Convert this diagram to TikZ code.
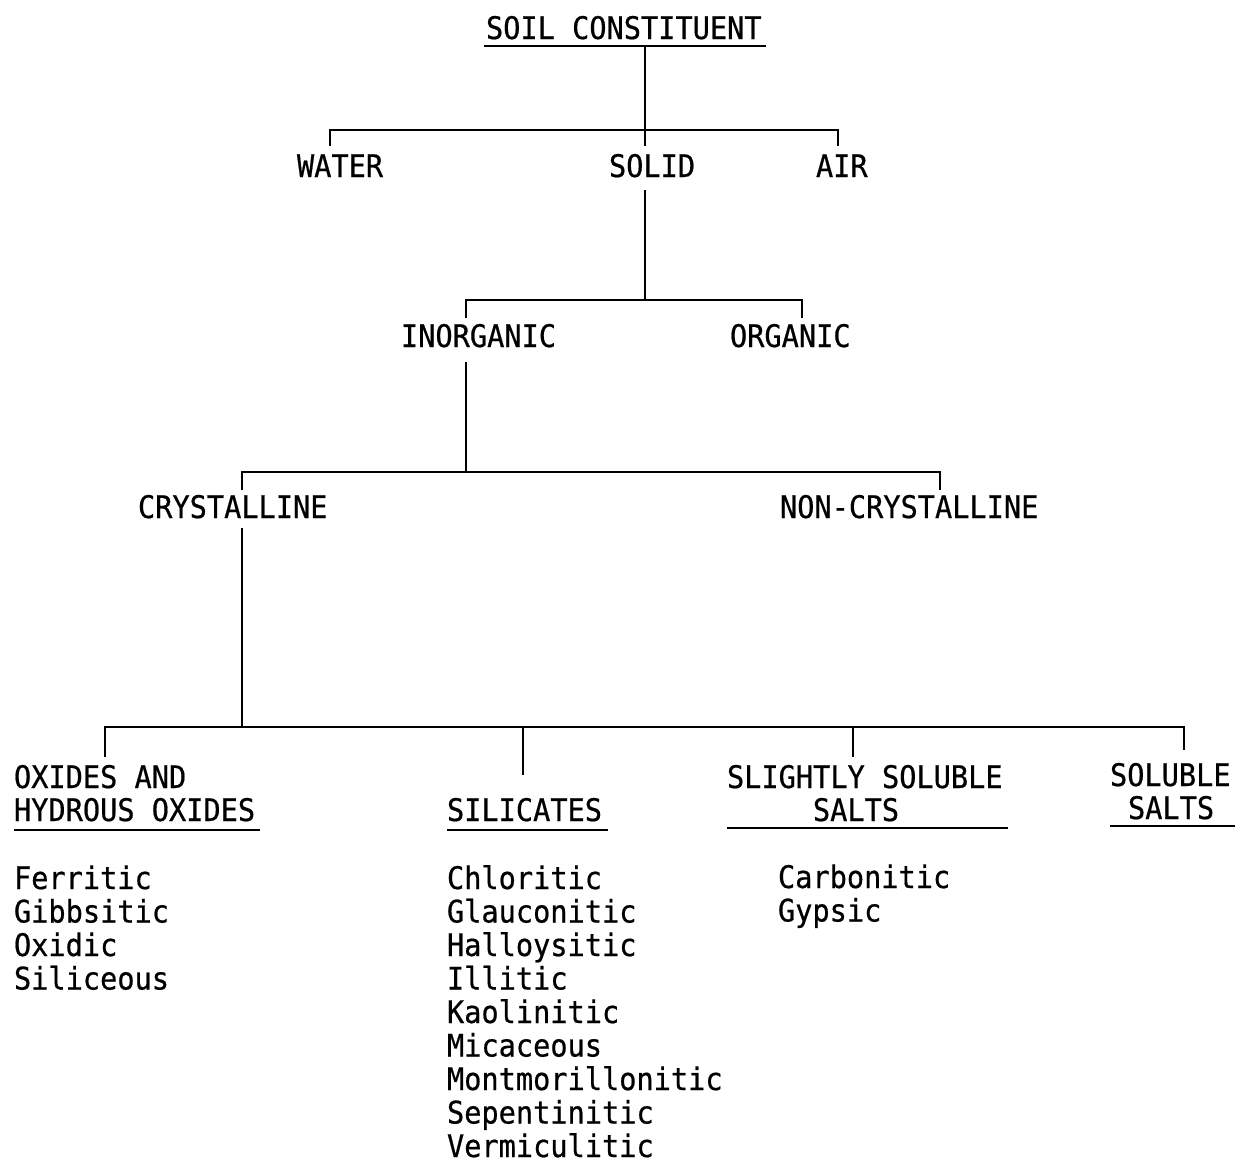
\documentclass[tikz,border=0pt]{standalone}
\usepackage{fontspec}
\setmonofont[FakeStretch=0.92,FakeBold=0.6]{DejaVu Sans Mono}
\begin{document}
\begin{tikzpicture}[x=1pt,y=-1pt,
  lbl/.style={font=\ttfamily\fontsize{31.1}{33.5}\selectfont,inner sep=0pt,outer sep=0pt,anchor=base west},
  lblc/.style={lbl,anchor=base},
  link/.style={line width=2.7pt},
  uline/.style={line width=2.7pt}]
\useasboundingbox (0,0) rectangle (1235,1162);

% ---- root ----
\node[lbl] (soil) at (486,39) {SOIL CONSTITUENT};
\draw[uline] (484,46) -- (766,46);

% ---- level 1: water / solid / air ----
\node[lbl] (water) at (297,177) {WATER};
\node[lbl] (solid) at (609,177) {SOLID};
\node[lbl] (air)   at (816,177) {AIR};

\coordinate (soilU) at (645,46);
\coordinate (j0) at (645,130);
\coordinate (j0s) at (645,146);
\coordinate (j0w) at (330,146);
\coordinate (j0a) at (838,146);
\draw[link] (soilU) -- (j0s);
\draw[link] (j0w) -- (j0w |- j0) -- (j0a |- j0) -- (j0a);

% ---- level 2: inorganic / organic ----
\node[lbl] (inorg) at (401,347) {INORGANIC};
\node[lbl] (org)   at (730,347) {ORGANIC};

\coordinate (solidB) at (645,190);
\coordinate (j1) at (645,300);
\coordinate (j1i) at (466,318);
\coordinate (j1o) at (802,318);
\draw[link] (solidB) -- (j1);
\draw[link] (j1i) -- (j1i |- j1) -- (j1o |- j1) -- (j1o);

% ---- level 3: crystalline / non-crystalline ----
\node[lbl] (cryst) at (138,518) {CRYSTALLINE};
\node[lbl] (ncryst) at (780,518) {NON-CRYSTALLINE};

\coordinate (inorgB) at (466,362);
\coordinate (j2) at (466,472);
\coordinate (j2c) at (242,490);
\coordinate (j2n) at (940,490);
\draw[link] (inorgB) -- (j2);
\draw[link] (j2c) -- (j2c |- j2) -- (j2n |- j2) -- (j2n);

% ---- level 4: mineral groups ----
\coordinate (crystB) at (242,528);
\coordinate (j3) at (242,727);
\coordinate (j3a) at (105,757);
\coordinate (j3b) at (523,775);
\coordinate (j3c) at (853,757);
\coordinate (j3d) at (1184,750);
\draw[link] (crystB) -- (j3);
\draw[link] (j3a) -- (j3a |- j3) -- (j3d |- j3) -- (j3d);
\draw[link] (j3b |- j3) -- (j3b);
\draw[link] (j3c |- j3) -- (j3c);

% oxides
\node[lbl] (ox1) at (14,788) {OXIDES AND};
\node[lbl] (ox2) at (14,821) {HYDROUS OXIDES};
\draw[uline] (14,830) -- (260,830);

% silicates
\node[lbl] (sil) at (447,821) {SILICATES};
\draw[uline] (447,830) -- (608,830);

% slightly soluble salts
\node[lbl] (ss1) at (727,788) {SLIGHTLY SOLUBLE};
\node[lblc] (ss2) at (856,821) {SALTS};
\draw[uline] (727,828) -- (1008,828);

% soluble salts
\node[lbl] (so1) at (1110,786) {SOLUBLE};
\node[lbl] (so2) at (1128,819) {SALTS};
\draw[uline] (1110,826) -- (1235,826);

% ---- member lists ----
\foreach \t [count=\i from 0] in {Ferritic,Gibbsitic,Oxidic,Siliceous}
  \node[lbl] (oxl\i) at (14,889+33.5*\i) {\t};

\foreach \t [count=\i from 0] in {Chloritic,Glauconitic,Halloysitic,Illitic,Kaolinitic,Micaceous,Montmorillonitic,Sepentinitic,Vermiculitic}
  \node[lbl] (sill\i) at (447,889+33.5*\i) {\t};

\foreach \t [count=\i from 0] in {Carbonitic,Gypsic}
  \node[lbl] (ssl\i) at (778,888+33.5*\i) {\t};

\end{tikzpicture}
\end{document}
